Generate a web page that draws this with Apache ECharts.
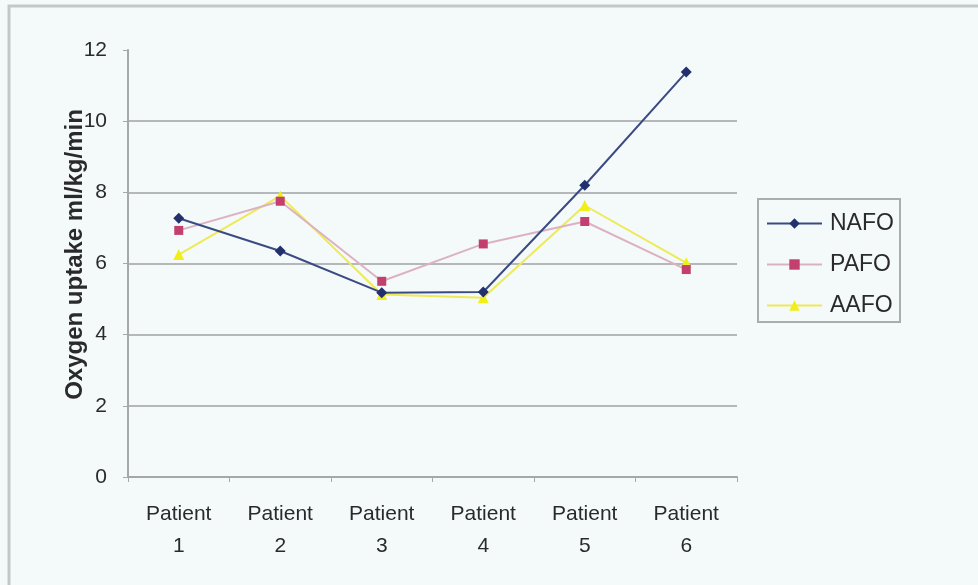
<!DOCTYPE html>
<html>
<head>
<meta charset="utf-8">
<script src="https://cdn.jsdelivr.net/npm/echarts@6/dist/echarts.min.js"></script>
<style>
  html, body { margin: 0; padding: 0; background: #f4fafa; }
  #chart { width: 978px; height: 585px; }
</style>
</head>
<body>
<div id="chart"></div>
<script>
// Oxygen uptake per patient for three orthosis conditions
const categories = ['Patient\n1', 'Patient\n2', 'Patient\n3', 'Patient\n4', 'Patient\n5', 'Patient\n6'];
const nafo = [7.27, 6.35, 5.18, 5.2, 8.2, 11.38];
const pafo = [6.93, 7.75, 5.5, 6.55, 7.18, 5.83];
const aafo = [6.25, 7.9, 5.13, 5.04, 7.63, 6.02];
const yTicks = { min: 0, max: 12, interval: 2 };

const font = 'Liberation Sans, Arial, sans-serif';
const textColor = '#2a2a2a';
const chart = echarts.init(document.getElementById('chart'));

chart.setOption({
  backgroundColor: '#f4fafa',
  animation: false,
  graphic: [
    {
      // outer chart frame
      type: 'rect',
      shape: { x: 9, y: 6, width: 1000, height: 600 },
      style: { fill: 'none', stroke: '#c3c7c7', lineWidth: 3 },
      silent: true
    },
    {
      // legend frame
      type: 'rect',
      shape: { x: 758, y: 199, width: 142, height: 123 },
      style: { fill: 'none', stroke: '#a9adad', lineWidth: 2 },
      silent: true,
      z: 10
    }
  ],
  grid: { left: 128, right: 241, top: 50, bottom: 108 },
  legend: {
    orient: 'vertical',
    left: 766,
    top: 212,
    padding: 0,
    itemWidth: 55,
    itemHeight: 13,
    itemGap: 18,
    textStyle: { fontFamily: font, fontSize: 23, lineHeight: 22, color: textColor, padding: [0, 0, 0, 3] },
    data: ['NAFO', 'PAFO', 'AAFO']
  },
  xAxis: {
    type: 'category',
    data: categories,
    boundaryGap: true,
    axisLine: { lineStyle: { color: '#a4a8a8', width: 2 } },
    axisTick: { show: true, length: 5, lineStyle: { color: '#a4a8a8' } },
    axisLabel: { fontFamily: font, fontSize: 21, color: textColor, lineHeight: 32, margin: 21 }
  },
  yAxis: {
    type: 'value',
    min: yTicks.min,
    max: yTicks.max,
    interval: yTicks.interval,
    name: 'Oxygen uptake ml/kg/min',
    nameLocation: 'middle',
    nameGap: 41,
    nameMoveOverlap: false,
    nameTextStyle: { fontFamily: font, fontSize: 24, fontWeight: 'bold', color: textColor, padding: [0, 0, 0, 18] },
    axisLine: { show: true, lineStyle: { color: '#a4a8a8', width: 2 } },
    axisTick: { show: true, length: 5, lineStyle: { color: '#a4a8a8' } },
    axisLabel: { fontFamily: font, fontSize: 21, color: textColor, margin: 21 },
    splitLine: {
      show: true,
      lineStyle: {
        color: ['#b4b8b8', '#b4b8b8', '#b4b8b8', '#b4b8b8', '#b4b8b8', '#b4b8b8', 'rgba(0,0,0,0)'],
        width: 2
      }
    }
  },
  series: [
    {
      name: 'NAFO',
      type: 'line',
      data: nafo,
      symbol: 'diamond',
      symbolSize: 11,
      itemStyle: { color: '#22306e' },
      lineStyle: { color: '#3b4a82', width: 2 },
      z: 4
    },
    {
      name: 'PAFO',
      type: 'line',
      data: pafo,
      symbol: 'rect',
      symbolSize: 9,
      itemStyle: { color: '#c23f70' },
      lineStyle: { color: '#dcb2c2', width: 2 },
      z: 3
    },
    {
      name: 'AAFO',
      type: 'line',
      data: aafo,
      symbol: 'triangle',
      symbolSize: 11,
      itemStyle: { color: '#f2ee1a' },
      lineStyle: { color: '#eeea55', width: 2 },
      z: 2
    }
  ]
});
</script>
</body>
</html>
